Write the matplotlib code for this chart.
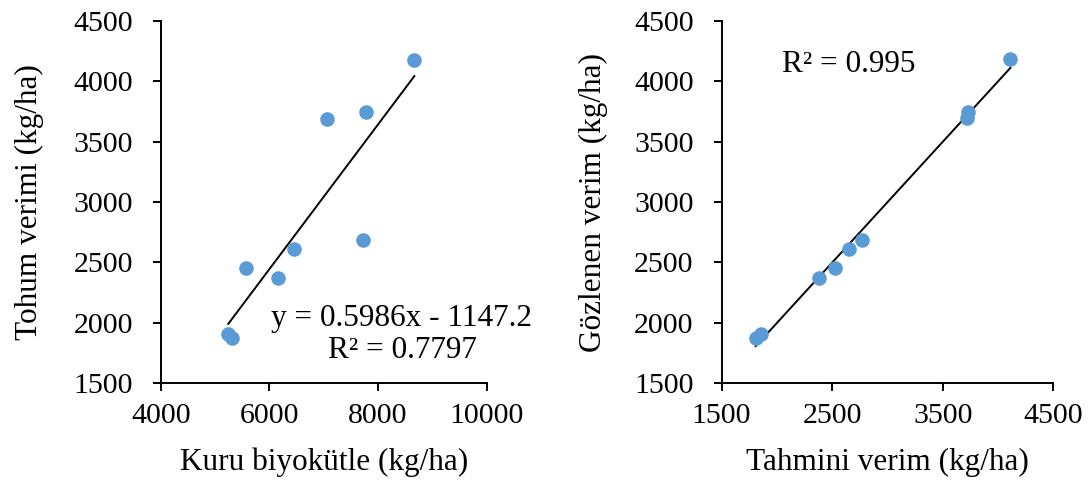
import numpy as np
import matplotlib.pyplot as plt

plt.rcParams['font.family'] = ['Liberation Serif', 'DejaVu Serif']

# left panel: dry biomass vs seed yield
biomass = [8668, 7779, 7061, 6459, 7729, 5570, 6153, 5244, 5307]
seed_yield = [4178, 3748, 3683, 2614, 2683, 2450, 2375, 1911, 1878]
slope, intercept = 0.5986, -1147.2

# right panel: predicted vs observed yield
predicted = [4112, 3727, 3718, 2773, 2651, 2527, 2385, 1854, 1809]
observed = [4185, 3744, 3692, 2683, 2614, 2456, 2375, 1911, 1878]

left_xticks = [4000, 6000, 8000, 10000]
right_xticks = [1500, 2500, 3500, 4500]
yticks = [1500, 2000, 2500, 3000, 3500, 4000, 4500]

blue = '#5b9bd5'

W, H = 1092, 486
fig = plt.figure(figsize=(W / 100, H / 100), dpi=100)

def px_axes(x0, y0, x1, y1):
    # axes box from pixel corners (top-left origin)
    return fig.add_axes([x0 / W, 1 - y1 / H, (x1 - x0) / W, (y1 - y0) / H])

def style(ax):
    for s in ['top', 'right']:
        ax.spines[s].set_visible(False)
    for s in ['left', 'bottom']:
        ax.spines[s].set_linewidth(1.4)
    ax.tick_params(direction='out', length=6, width=1.4, labelsize=21.5)
    ax.tick_params(axis='x', pad=8)
    ax.tick_params(axis='y', pad=14)
    ax.set_yticks(yticks)
    ax.set_ylim(1500, 4500)

ax1 = px_axes(160.7, 20.7, 486.7, 383.3)
ax1.scatter(biomass, seed_yield, s=110, color=blue, zorder=3, linewidths=0)
xs = np.array([min(biomass), max(biomass)])
ax1.plot(xs, slope * xs + intercept, color='black', lw=1.4, zorder=2)
ax1.set_xticks(left_xticks)
ax1.set_xlim(4000, 10000)
style(ax1)
ax1.set_xlabel('Kuru biyokütle (kg/ha)', fontsize=22.5)
ax1.set_ylabel('Tohum verimi (kg/ha)', fontsize=22.5)
ax1.xaxis.set_label_coords(0.5, -0.178)
ax1.yaxis.set_label_coords(-0.358, 0.5)
ax1.text(8441, 1904, 'y = 0.5986x - 1147.2\nR² = 0.7797', fontsize=22.5,
         ha='center', va='center', linespacing=1.15, clip_on=False)

ax2 = px_axes(721.5, 20.7, 1053.3, 383.3)
ax2.scatter(predicted, observed, s=110, color=blue, zorder=3, linewidths=0)
m, b = np.polyfit(predicted, observed, 1)
xs2 = np.array([min(predicted), max(predicted)])
ax2.plot(xs2, m * xs2 + b, color='black', lw=1.4, zorder=2)
ax2.set_xticks(right_xticks)
ax2.set_xlim(1500, 4500)
style(ax2)
ax2.set_xlabel('Tahmini verim (kg/ha)', fontsize=22.5)
ax2.set_ylabel('Gözlenen verim (kg/ha)', fontsize=22.5)
ax2.xaxis.set_label_coords(0.5, -0.178)
ax2.yaxis.set_label_coords(-0.342, 0.5)
ax2.text(2653, 4134, 'R² = 0.995', fontsize=22.5, ha='center', va='center')

fig.savefig('out.png', dpi=100)
